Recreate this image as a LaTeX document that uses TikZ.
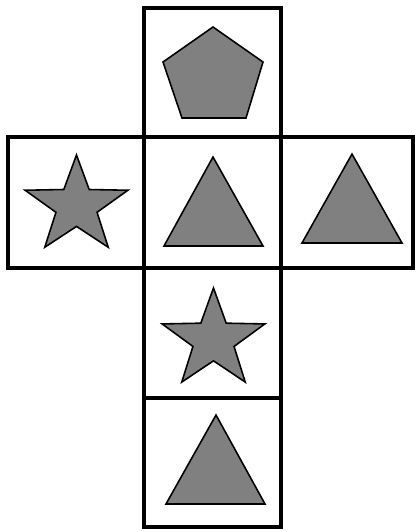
\documentclass[tikz,border=0pt]{standalone}
\usetikzlibrary{calc}
\definecolor{cgrey}{HTML}{808080}
\tikzset{
  every picture/.style={line width=2.7pt},
  cell/.style={draw=black, line width=2.7pt, line join=miter},
  figure/.style={draw=black, fill=cgrey, line width=0.9pt, line join=miter},
}
% star at (x,y) with outer radii rx, ry
\newcommand{\netstar}[4]{%
  \coordinate (sc) at (#1,#2);
  \draw[figure] ($(sc)+(-90:#3 and #4)$)
    \foreach \a in {-18,54,126,198} {
      -- ($(sc)+({\a-36}:{0.4*#3} and {0.4*#4})$) -- ($(sc)+(\a:#3 and #4)$)
    } -- ($(sc)+(234:{0.4*#3} and {0.4*#4})$) -- cycle;
}

\begin{document}
\begin{tikzpicture}[x=0.02cm, y=-0.02cm]
  \useasboundingbox (0,0) rectangle (415,532);
  % net of the cube
  \foreach \xa/\ya/\xb/\yb in {144/8/281/137, 8/137/144/268, 144/137/281/268, 281/137/413/268, 144/268/281/398, 144/398/281/527}
    \draw[cell] (\xa,\ya) rectangle (\xb,\yb);
  % faces
  \draw[figure] (213,27) -- (263,62) -- (246,118) -- (182,118) -- (163,62) -- cycle;
  \netstar{76.5}{206}{54}{51}
  \draw[figure] (213,157) -- (263,246) -- (164,246) -- cycle;
  \draw[figure] (352,154) -- (402,243) -- (302,243) -- cycle;
  \netstar{213.5}{340}{54}{52}
  \draw[figure] (216,415) -- (265,504) -- (166,504) -- cycle;
\end{tikzpicture}
\end{document}
